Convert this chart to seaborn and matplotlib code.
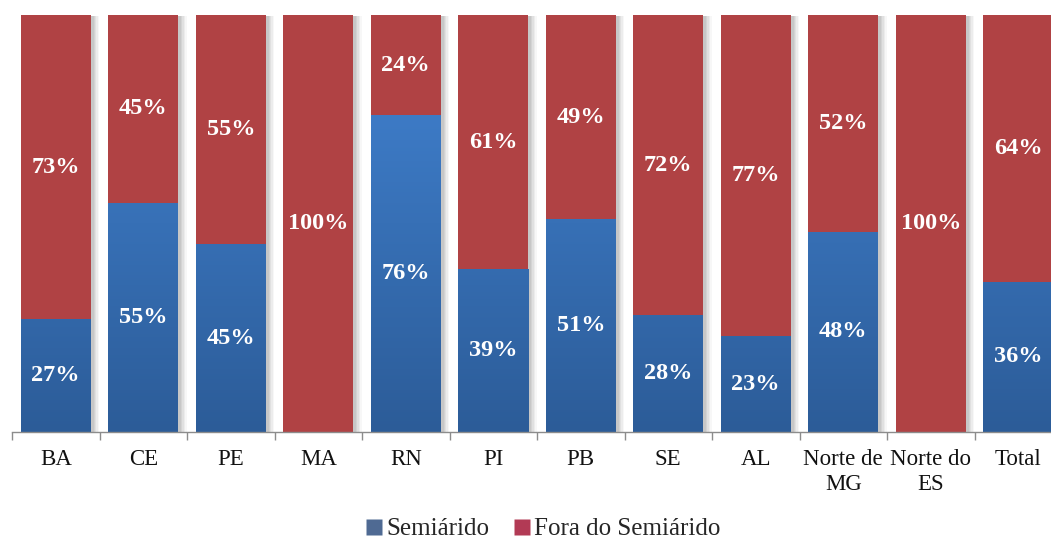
import numpy as np
import pandas as pd
import matplotlib
matplotlib.use("Agg")
import matplotlib.pyplot as plt
import matplotlib.patheffects as pe
from matplotlib.lines import Line2D
import seaborn as sns

categories = ["BA", "CE", "PE", "MA", "RN", "PI", "PB", "SE", "AL",
              "Norte de\nMG", "Norte do\nES", "Total"]
semiarido = [27, 55, 45, 0, 76, 39, 51, 28, 23, 48, 0, 36]
fora = [73, 45, 55, 100, 24, 61, 49, 72, 77, 52, 100, 64]
series_names = ["Semiárido", "Fora do Semiárido"]

sns.set_theme(style="white")
plt.rcParams['font.family'] = ['Liberation Serif', 'DejaVu Serif']

df = pd.DataFrame({"cat": categories, "semi": semiarido, "fora": fora})
df["total"] = df["semi"] + df["fora"]

fig = plt.figure(figsize=(10.51, 5.41), dpi=100)
W, H = 1051, 541
ax = fig.add_axes([12 / W, 1 - 432 / H, 1050 / W, 417 / H])

red = "#B04244"
blue_top = np.array([0x42, 0x84, 0xD4]) / 255
blue_bot = np.array([0x2C, 0x5C, 0x98]) / 255

shadow = [pe.SimplePatchShadow(offset=(k, -1), shadow_rgbFace="#777777", alpha=a)
          for k, a in [(6, 0.06), (5, 0.08), (4, 0.1), (3, 0.12), (2, 0.12)]] + [pe.Normal()]

sns.barplot(data=df, x="cat", y="total", color=red, width=0.8, saturation=1,
            order=categories, ax=ax, edgecolor="none", linewidth=0)
n_red = len(ax.patches)
sns.barplot(data=df, x="cat", y="semi", color=blue_bot, width=0.8, saturation=1,
            order=categories, ax=ax, edgecolor="none", linewidth=0)

for p in ax.patches[:n_red]:
    p.set_path_effects(shadow)

# gradient on blue bars
grad = np.linspace(0, 1, 256)[:, None]
cmap = matplotlib.colors.LinearSegmentedColormap.from_list("b", [blue_bot, blue_top])
for p in ax.patches[n_red:]:
    h = p.get_height()
    if h <= 0:
        p.set_visible(False)
        continue
    x0 = p.get_x()
    w = p.get_width()
    im = ax.imshow(grad, cmap=cmap, aspect="auto", origin="lower",
                   extent=[x0, x0 + w, 0, 100], zorder=p.get_zorder() + 0.1,
                   interpolation="bilinear")
    im.set_clip_path(p)

ax.set_xlim(-0.5, len(categories) - 0.5)
ax.set_ylim(0, 100)

# labels
for i, (s, f) in enumerate(zip(semiarido, fora)):
    if s > 0:
        ax.text(i, s / 2, f"{s}%", ha="center", va="center", color="white",
                fontsize=17.5, fontweight="bold", zorder=10)
    if f > 0:
        ax.text(i, s + f / 2, f"{f}%", ha="center", va="center", color="white",
                fontsize=17.5, fontweight="bold", zorder=10)

for sp in ["top", "right", "left"]:
    ax.spines[sp].set_visible(False)
ax.spines["bottom"].set_color("#8C8C8C")
ax.spines["bottom"].set_linewidth(1.0)
ax.set_yticks([])
ax.set_xlabel("")
ax.set_ylabel("")
ax.set_xticks(range(len(categories)))
ax.set_xticklabels(categories, fontsize=16.5, color="#111111", linespacing=1.3)
ax.tick_params(axis="x", which="major", length=0, pad=12, bottom=True)
ax.set_xticks(np.arange(-0.5, len(categories), 1.0), minor=True)
ax.tick_params(axis="x", which="minor", length=6, color="#8C8C8C", width=1,
               direction="out", bottom=True)
ax.set_axisbelow(False)

handles = [Line2D([0], [0], marker="s", linestyle="none", markersize=11,
                  markerfacecolor="#4F6A93", markeredgecolor="none"),
           Line2D([0], [0], marker="s", linestyle="none", markersize=11,
                  markerfacecolor="#B23A55", markeredgecolor="none")]
fig.legend(handles, series_names, loc="center", bbox_to_anchor=(0.517, 1 - 529 / H),
           ncol=2, frameon=False, fontsize=18, handlelength=0.6, handletextpad=0.2,
           columnspacing=1.0)

fig.savefig("out.png", dpi=100)
